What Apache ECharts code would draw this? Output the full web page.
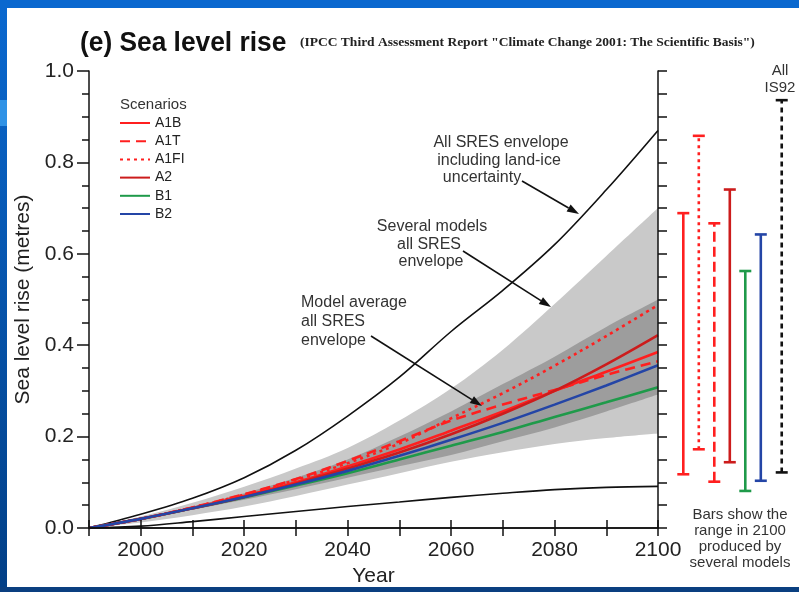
<!DOCTYPE html>
<html>
<head>
<meta charset="utf-8">
<script src="https://cdn.jsdelivr.net/npm/echarts@6/dist/echarts.min.js"></script>
<style>
  html, body { margin: 0; padding: 0; background: #ffffff; }
  #chart { width: 799px; height: 592px; }
</style>
</head>
<body>
<div id="chart"></div>
<script>
// Sea level rise 1990-2100, metres
const years = [1990, 2000, 2010, 2020, 2030, 2040, 2050, 2060, 2070, 2080, 2090, 2100];

// All SRES envelope including land-ice uncertainty (black curves)
const landIceUpper = [0, 0.03, 0.065, 0.11, 0.17, 0.245, 0.33, 0.43, 0.52, 0.62, 0.74, 0.87];
const landIceLower = [0, 0.004, 0.014, 0.025, 0.036, 0.047, 0.057, 0.067, 0.076, 0.084, 0.089, 0.091];

// Several models, all SRES envelope (light grey)
const severalUpper = [0, 0.025, 0.055, 0.09, 0.13, 0.175, 0.235, 0.305, 0.39, 0.49, 0.595, 0.70];
const severalLower = [0, 0.012, 0.028, 0.047, 0.07, 0.095, 0.12, 0.145, 0.166, 0.184, 0.197, 0.207];

// Model average, all SRES envelope (dark grey)
const averageUpper = [0, 0.021, 0.047, 0.076, 0.11, 0.15, 0.2, 0.255, 0.315, 0.375, 0.44, 0.50];
const averageLower = [0, 0.019, 0.04, 0.062, 0.085, 0.11, 0.135, 0.16, 0.19, 0.22, 0.255, 0.292];

// Scenario model averages
const A1B  = [0, 0.02, 0.044, 0.07, 0.1, 0.135, 0.172, 0.213, 0.255, 0.3, 0.342, 0.385];
const A1T  = [0, 0.02, 0.045, 0.074, 0.107, 0.147, 0.19, 0.235, 0.27, 0.302, 0.335, 0.365];
const A1FI = [0, 0.02, 0.045, 0.073, 0.105, 0.142, 0.185, 0.24, 0.295, 0.355, 0.42, 0.488];
const A2   = [0, 0.02, 0.043, 0.068, 0.097, 0.13, 0.165, 0.205, 0.25, 0.3, 0.358, 0.422];
const B1   = [0, 0.02, 0.043, 0.067, 0.093, 0.12, 0.15, 0.18, 0.21, 0.243, 0.275, 0.308];
const B2   = [0, 0.02, 0.043, 0.068, 0.095, 0.125, 0.158, 0.193, 0.23, 0.27, 0.312, 0.356];

// Range in 2100 produced by several models
const rangeNames = ['A1B', 'A1FI', 'A1T', 'A2', 'B1', 'B2', 'IS92'];
const rangeLow   = [0.129, 0.183, 0.113, 0.155, 0.093, 0.115, 0.133];
const rangeHigh  = [0.693, 0.860, 0.671, 0.744, 0.568, 0.647, 0.937];

const RED = '#ff1f1f', DARKRED = '#cc1c1c', GREEN = '#1f9a4a', BLUE = '#2445a6', INK = '#111111';
const SANS = 'Liberation Sans, Arial, Helvetica, sans-serif';
const SMOOTH = 0.35;

const pairs = arr => years.map((y, i) => [y, arr[i]]);

// smooth cubic path through pixel points (same spirit as the line series' smoothing)
function curve(pts, cmd) {
  const k = SMOOTH / 2;
  let d = cmd + pts[0][0].toFixed(2) + ',' + pts[0][1].toFixed(2);
  for (let i = 1; i < pts.length; i++) {
    const p0 = pts[Math.max(i - 2, 0)], p1 = pts[i - 1], p2 = pts[i], p3 = pts[Math.min(i + 1, pts.length - 1)];
    const c1 = [p1[0] + (p2[0] - p0[0]) * k, p1[1] + (p2[1] - p0[1]) * k];
    const c2 = [p2[0] - (p3[0] - p1[0]) * k, p2[1] - (p3[1] - p1[1]) * k];
    d += 'C' + c1.map(v => v.toFixed(2)).join(',') + ' ' + c2.map(v => v.toFixed(2)).join(',') + ' ' + p2.map(v => v.toFixed(2)).join(',');
  }
  return d;
}

function band(name, lo, hi, color, z) {
  return {
    name: name, type: 'custom', z: z, silent: true,
    data: years.map((y, i) => [y, lo[i], hi[i]]),
    encode: { x: 0, y: [1, 2] },
    renderItem: function (params, api) {
      if (params.dataIndex !== 0) return null;
      const up = years.map((y, i) => api.coord([y, hi[i]]));
      const dn = years.map((y, i) => api.coord([y, lo[i]])).reverse();
      return { type: 'path', shape: { pathData: curve(up, 'M') + curve(dn, 'L') + 'Z' }, style: { fill: color } };
    }
  };
}

function scenario(name, arr, color, type) {
  return { name: name, type: 'line', data: pairs(arr), smooth: SMOOTH, symbol: 'none',
    lineStyle: { color: color, width: 2.6, type: type }, itemStyle: { color: color }, z: 6 };
}

const barStyles = {
  A1B:  { color: RED, dash: null },
  A1FI: { color: RED, dash: [3, 4] },
  A1T:  { color: RED, dash: [10, 5] },
  A2:   { color: DARKRED, dash: null },
  B1:   { color: GREEN, dash: null },
  B2:   { color: BLUE, dash: null },
  IS92: { color: INK, dash: [5, 4] }
};
// slot of each bar along the strip; the IS92 bar sits a little apart
const rangeData = rangeNames.map((n, i) => [i + (n === 'IS92' ? 0.35 : 0), rangeLow[i], rangeHigh[i], i]);

function arrow(x1, y1, x2, y2) {
  const ang = Math.atan2(y2 - y1, x2 - x1), L = 12, W = 4;
  const bx = x2 - L * Math.cos(ang), by = y2 - L * Math.sin(ang);
  const nx = -Math.sin(ang) * W, ny = Math.cos(ang) * W;
  return [
    { type: 'line', z: 50, shape: { x1, y1, x2: bx, y2: by }, style: { stroke: INK, lineWidth: 1.6 } },
    { type: 'polygon', z: 50, shape: { points: [[x2, y2], [bx + nx, by + ny], [bx - nx, by - ny]] }, style: { fill: INK } }
  ];
}
function label(text, x, y, align, size) {
  return { type: 'text', z: 50, x, y,
    style: { text, fill: '#333', font: (size || 16) + 'px ' + SANS, align: align || 'center', verticalAlign: 'middle' } };
}

const chart = echarts.init(document.getElementById('chart'), null, { renderer: 'canvas' });

const axisLine = { show: true, lineStyle: { color: INK, width: 1.5 } };
const axisLabelStyle = { color: '#222', fontSize: 21, fontFamily: SANS };

chart.setOption({
  animation: false,
  backgroundColor: '#ffffff',
  grid: [
    { left: 89, right: 141, top: 71, bottom: 58 },
    { left: 667.8, right: 1, top: 71, bottom: 58 }
  ],
  xAxis: [
    { type: 'value', gridIndex: 0, min: 1990, max: 2100, interval: 10, position: 'bottom',
      name: 'Year', nameLocation: 'middle', nameGap: 38,
      nameTextStyle: { color: '#222', fontSize: 21, fontFamily: SANS },
      axisLine, axisTick: { show: true, length: 8, lineStyle: { color: INK, width: 1.5 } },
      axisLabel: Object.assign({ margin: 12, formatter: v => (v % 20 === 0 ? String(v) : '') }, axisLabelStyle),
      splitLine: { show: false }, z: 10 },
    { type: 'value', gridIndex: 0, min: 1990, max: 2100, interval: 10, position: 'top',
      axisLine, axisTick: { show: true, length: 8, lineStyle: { color: INK, width: 1.5 } },
      axisLabel: { show: false }, splitLine: { show: false }, z: 10 },
    { type: 'value', gridIndex: 1, min: -1, max: 7.4, show: false }
  ],
  yAxis: [
    { type: 'value', gridIndex: 0, min: 0, max: 1, interval: 0.2, position: 'left',
      name: 'Sea level rise (metres)', nameLocation: 'middle', nameGap: 54,
      nameTextStyle: { color: '#222', fontSize: 21, fontFamily: SANS },
      axisLine, axisTick: { show: true, length: 12, lineStyle: { color: INK, width: 1.5 } },
      minorTick: { show: true, splitNumber: 4, length: 7, lineStyle: { color: INK, width: 1.5 } },
      axisLabel: Object.assign({ margin: 15, formatter: v => v.toFixed(1) }, axisLabelStyle),
      splitLine: { show: false }, z: 10 },
    { type: 'value', gridIndex: 0, min: 0, max: 1, interval: 0.05, position: 'right',
      axisLine, axisTick: { show: true, length: 9, lineStyle: { color: INK, width: 1.5 } },
      axisLabel: { show: false }, splitLine: { show: false }, z: 10 },
    { type: 'value', gridIndex: 1, min: 0, max: 1, show: false }
  ],
  legend: {
    data: ['A1B', 'A1T', 'A1FI', 'A2', 'B1', 'B2'],
    orient: 'vertical', left: 119, top: 116, padding: 0, itemWidth: 30, itemHeight: 14, itemGap: 4.2,
    selectedMode: false, itemStyle: { opacity: 0 },
    textStyle: { color: '#222', fontSize: 14, fontFamily: SANS }
  },
  series: [
    band('several', severalLower, severalUpper, '#c9c9c9', 2),
    band('average', averageLower, averageUpper, '#9d9d9d', 3),
    { name: 'land-ice upper', type: 'line', data: pairs(landIceUpper), smooth: SMOOTH, symbol: 'none',
      lineStyle: { color: INK, width: 1.6 }, z: 4 },
    { name: 'land-ice lower', type: 'line', data: pairs(landIceLower), smooth: SMOOTH, symbol: 'none',
      lineStyle: { color: INK, width: 1.6 }, z: 4 },
    scenario('B1', B1, GREEN, 'solid'),
    scenario('A1T', A1T, RED, [10, 6]),
    scenario('A1FI', A1FI, RED, [3, 4]),
    scenario('A1B', A1B, RED, 'solid'),
    scenario('A2', A2, DARKRED, 'solid'),
    scenario('B2', B2, BLUE, 'solid'),
    {
      name: 'range2100', type: 'custom', xAxisIndex: 2, yAxisIndex: 2, data: rangeData, z: 6,
      renderItem: function (params, api) {
        const s = api.value(0), lo = api.value(1), hi = api.value(2);
        const st = barStyles[rangeNames[api.value(3)]];
        const pLo = api.coord([s, lo]), pHi = api.coord([s, hi]);
        const cap = 6;
        return { type: 'group', children: [
          { type: 'line', shape: { x1: pLo[0], y1: pLo[1], x2: pHi[0], y2: pHi[1] },
            style: { stroke: st.color, lineWidth: 2.6, lineDash: st.dash } },
          { type: 'line', shape: { x1: pHi[0] - cap, y1: pHi[1], x2: pHi[0] + cap, y2: pHi[1] },
            style: { stroke: st.color, lineWidth: 2.6 } },
          { type: 'line', shape: { x1: pLo[0] - cap, y1: pLo[1], x2: pLo[0] + cap, y2: pLo[1] },
            style: { stroke: st.color, lineWidth: 2.6 } }
        ] };
      }
    }
  ],
  graphic: [
    // slide frame
    { type: 'rect', shape: { x: 0, y: 0, width: 799, height: 8 }, style: { fill: '#0a68cf' } },
    { type: 'rect', shape: { x: 0, y: 8, width: 7, height: 584 },
      style: { fill: new echarts.graphic.LinearGradient(0, 0, 0, 1, [
        { offset: 0, color: '#0a68cf' }, { offset: 1, color: '#023f86' }]) } },
    { type: 'rect', shape: { x: 0, y: 100, width: 7, height: 26 }, style: { fill: '#2f92e6' } },
    { type: 'rect', shape: { x: 0, y: 587, width: 799, height: 5 }, style: { fill: '#0a3f80' } },
    // titles
    { type: 'text', z: 50, x: 80, y: 43, scaleX: 0.94, style: { text: '(e) Sea level rise', fill: '#111',
      font: 'bold 28px ' + SANS, verticalAlign: 'middle' } },
    { type: 'text', z: 50, x: 300, y: 43, style: { text: '(IPCC Third Assessment Report "Climate Change 2001: The Scientific Basis")',
      fill: '#222', font: 'bold 13.5px "Liberation Serif", "Times New Roman", serif', verticalAlign: 'middle' } },
    label('Scenarios', 120, 105, 'left', 15),
    // annotations
    label('All SRES envelope', 501, 143),
    label('including land-ice', 499, 161),
    label('uncertainty', 482, 178),
    ...arrow(522, 181, 579, 214),
    label('Several models', 432, 227),
    label('all SRES', 429, 245),
    label('envelope', 431, 262),
    ...arrow(463, 251, 551, 307),
    label('Model average', 301, 303, 'left'),
    label('all SRES', 301, 322, 'left'),
    label('envelope', 301, 341, 'left'),
    ...arrow(371, 336, 482, 406),
    label('All', 780, 71, 'center', 15),
    label('IS92', 780, 88, 'center', 15),
    label('Bars show the', 740, 515, 'center', 15),
    label('range in 2100', 740, 531, 'center', 15),
    label('produced by', 740, 547, 'center', 15),
    label('several models', 740, 563, 'center', 15)
  ]
});
</script>
</body>
</html>
